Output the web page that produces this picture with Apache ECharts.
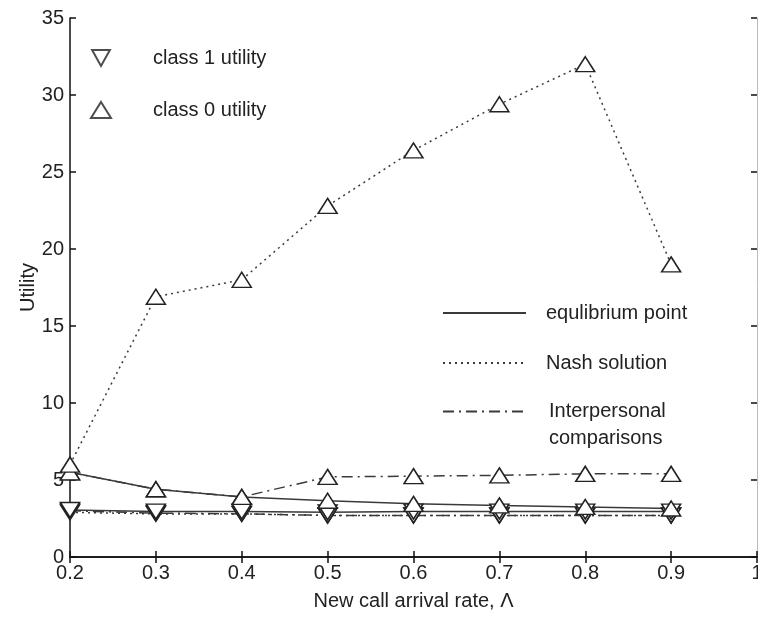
<!DOCTYPE html>
<html>
<head>
<meta charset="utf-8">
<script src="https://cdn.jsdelivr.net/npm/echarts@6/dist/echarts.min.js"></script>
<style>
  html, body { margin: 0; padding: 0; background: #fff; overflow: hidden; }
  #chart { width: 758px; height: 621px; }
</style>
</head>
<body>
<div id="chart"></div>
<script>
// New call arrival rate (x values)
const arrivalRates = [0.2, 0.3, 0.4, 0.5, 0.6, 0.7, 0.8, 0.9];

// Class 0 utility under each allocation rule
const class0Equilibrium   = [5.5, 4.4, 3.9, 3.65, 3.45, 3.35, 3.25, 3.15];
const class0Nash          = [6.0, 16.9, 18.0, 22.8, 26.4, 29.4, 32.0, 19.0];
const class0Interpersonal = [5.5, 4.4, 3.9, 5.2, 5.25, 5.3, 5.4, 5.4];

// Class 1 utility under each allocation rule
const class1Equilibrium   = [3.05, 2.95, 2.95, 2.9, 2.95, 2.95, 2.95, 2.95];
const class1Nash          = [2.9, 2.8, 2.8, 2.7, 2.7, 2.7, 2.7, 2.7];
const class1Interpersonal = [3.0, 2.85, 2.8, 2.7, 2.7, 2.7, 2.7, 2.7];

// Axis ranges / ticks
const xTicks = { min: 0.2, max: 1.0, step: 0.1 };
const yTicks = { min: 0, max: 35, step: 5 };

const INK = '#222';
const LINE = '#3a3a3a';
const FONT = 'Liberation Sans, Arial, Helvetica, sans-serif';

const UP = 'triangle';
const DOWN = 'path://M0,0L10,0L5,9Z';

const lineTypes = {
  'equlibrium point': 'solid',
  'Nash solution': [2, 4],
  'Interpersonal comparisons': [11, 5, 2, 5]
};

const pairs = ys => arrivalRates.map((x, i) => [x, ys[i]]);

function curve(name, ys, symbol) {
  return {
    name: name,
    type: 'line',
    data: pairs(ys),
    symbol: symbol,
    symbolSize: [19, 15],
    showAllSymbol: true,
    lineStyle: { color: LINE, width: 1.5, type: lineTypes[name] },
    itemStyle: { color: '#fff', borderColor: INK, borderWidth: 1.5 },
    emphasis: { disabled: true },
    animation: false,
    z: 3
  };
}

// Legend-only entries (no data) describing line styles and marker shapes
function styleKey(name) {
  return {
    name: name,
    type: 'line',
    data: [],
    symbol: 'none',
    lineStyle: { color: LINE, width: 1.5, type: lineTypes[name] },
    itemStyle: { color: LINE },
    animation: false
  };
}
function markerKey(name, symbol) {
  return {
    name: name,
    type: 'scatter',
    data: [],
    symbol: symbol,
    itemStyle: { color: '#fff', borderColor: INK, borderWidth: 1.5 },
    animation: false
  };
}

const series = [
  styleKey('equlibrium point'),
  styleKey('Nash solution'),
  styleKey('Interpersonal comparisons'),
  markerKey('class 1 utility', DOWN),
  markerKey('class 0 utility', UP),
  curve('Nash solution', class1Nash, DOWN),
  curve('Interpersonal comparisons', class1Interpersonal, DOWN),
  curve('equlibrium point', class1Equilibrium, DOWN),
  curve('Interpersonal comparisons', class0Interpersonal, UP),
  curve('equlibrium point', class0Equilibrium, UP),
  curve('Nash solution', class0Nash, UP)
];

const textBase = { color: INK, fontFamily: FONT, fontSize: 20 };
const axisInk = { color: '#111', width: 1.5 };

const chart = echarts.init(document.getElementById('chart'), null, { renderer: 'canvas' });
chart.setOption({
  backgroundColor: '#fff',
  animation: false,
  grid: {
    left: 70, width: 687, top: 18, bottom: 64,
    containLabel: false, outerBoundsMode: 'none'
  },
  legend: [
    {
      data: ['class 1 utility', 'class 0 utility'],
      orient: 'vertical',
      left: 85, top: 43,
      itemWidth: 20, itemHeight: 16, itemGap: 32,
      selectedMode: false,
      textStyle: Object.assign({ padding: [0, 0, 0, 37] }, textBase)
    },
    {
      data: ['equlibrium point', 'Nash solution'],
      orient: 'vertical',
      left: 437, top: 298,
      itemWidth: 83, itemHeight: 14, itemGap: 30,
      selectedMode: false,
      itemStyle: { opacity: 0 },
      textStyle: Object.assign({ padding: [0, 0, 0, 15] }, textBase)
    },
    {
      data: ['Interpersonal comparisons'],
      orient: 'vertical',
      left: 437, top: 366,
      itemWidth: 83, itemHeight: 14,
      selectedMode: false,
      itemStyle: { opacity: 0 },
      // blank first line keeps "Interpersonal" level with the key line
      formatter: () => '\u00a0\nInterpersonal\ncomparisons',
      textStyle: Object.assign({ padding: [0, 0, 0, 18], lineHeight: 27 }, textBase)
    }
  ],
  xAxis: [
    {
      type: 'value',
      min: xTicks.min, max: xTicks.max, interval: xTicks.step,
      name: 'New call arrival rate, \u039B',
      nameLocation: 'middle', nameGap: 34, nameMoveOverlap: false,
      nameTextStyle: textBase,
      axisLine: { lineStyle: axisInk },
      axisTick: { inside: true, length: 6, lineStyle: axisInk },
      axisLabel: Object.assign({ margin: 6 }, textBase),
      splitLine: { show: false }
    },
    {
      type: 'value', position: 'top',
      min: xTicks.min, max: xTicks.max, interval: xTicks.step,
      axisLine: { lineStyle: axisInk },
      axisTick: { inside: true, length: 6, lineStyle: axisInk },
      axisLabel: { show: false },
      splitLine: { show: false }
    }
  ],
  yAxis: [
    {
      type: 'value',
      min: yTicks.min, max: yTicks.max, interval: yTicks.step,
      name: 'Utility',
      nameLocation: 'middle', nameGap: 32, nameRotate: 90, nameMoveOverlap: false,
      nameTextStyle: textBase,
      axisLine: { lineStyle: axisInk },
      axisTick: { inside: true, length: 6, lineStyle: axisInk },
      axisLabel: Object.assign({ margin: 6 }, textBase),
      splitLine: { show: false }
    },
    {
      type: 'value', position: 'right',
      min: yTicks.min, max: yTicks.max, interval: yTicks.step,
      axisLine: { lineStyle: { color: '#bbb', width: 1 } },
      axisTick: { inside: true, length: 6, lineStyle: axisInk },
      axisLabel: { show: false },
      splitLine: { show: false }
    }
  ],
  series: series
});
</script>
</body>
</html>
